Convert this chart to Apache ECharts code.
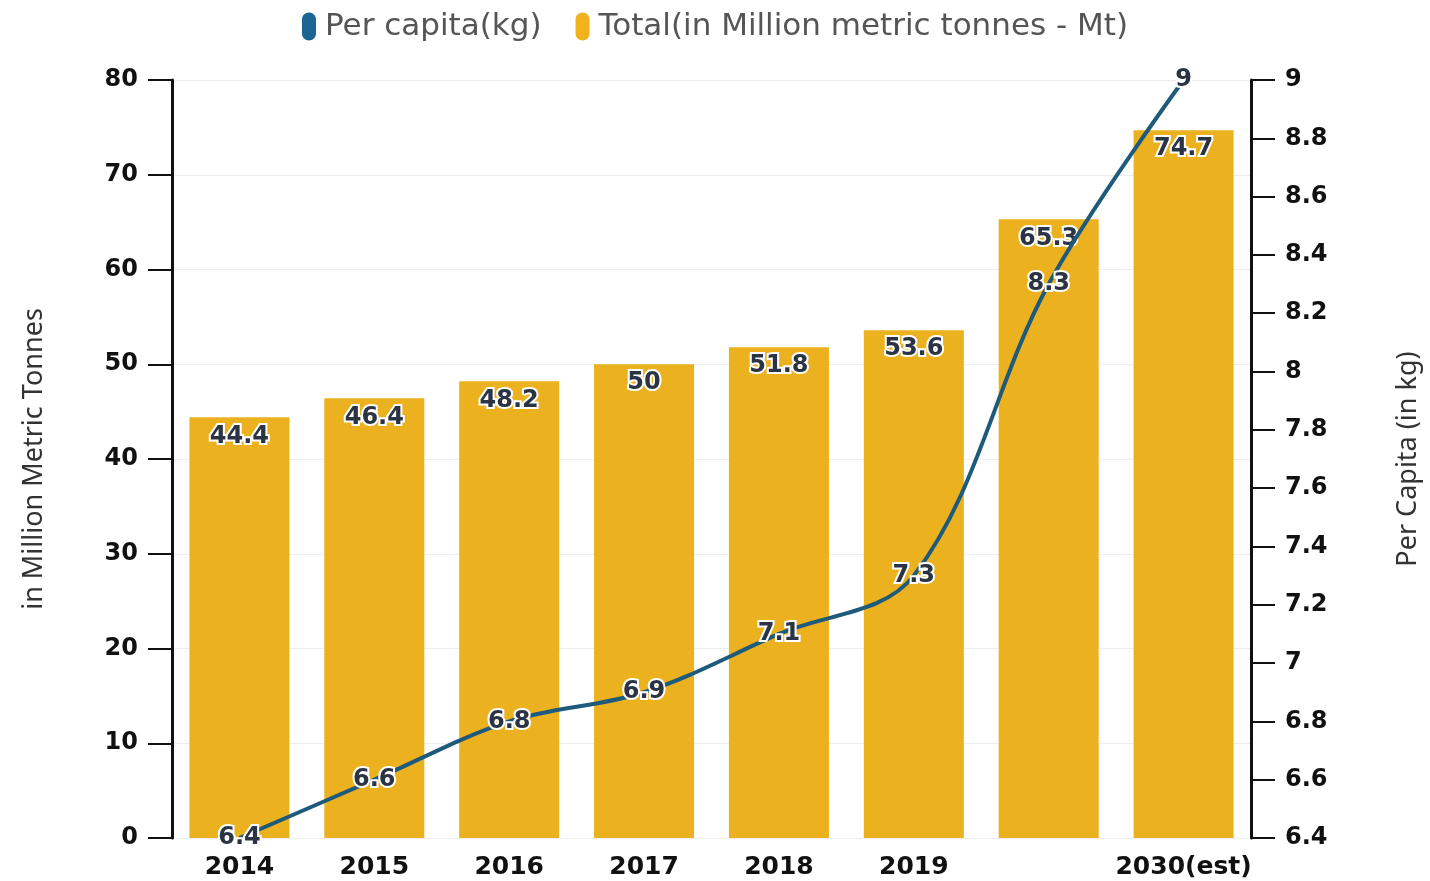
<!DOCTYPE html>
<html>
<head>
<meta charset="utf-8">
<script src="https://cdn.jsdelivr.net/npm/echarts@6/dist/echarts.min.js"></script>
<style>html,body{margin:0;padding:0;background:#fff}#c{width:1430px;height:881px}</style>
</head>
<body>
<div id="c"></div>
<script>
const categories = ['2014', '2015', '2016', '2017', '2018', '2019', '', '2030(est)'];
const totalMt = [44.4, 46.4, 48.2, 50, 51.8, 53.6, 65.3, 74.7];
const perCapita = [6.4, 6.6, 6.8, 6.9, 7.1, 7.3, 8.3, 9];
const seriesNames = ['Per capita(kg)', 'Total(in Million metric tonnes - Mt)'];
const leftAxisName = 'in Million Metric Tonnes';
const rightAxisName = 'Per Capita (in kg)';

const pill = 'path://M50,0 C78,0 100,22 100,50 L100,150 C100,178 78,200 50,200 C22,200 0,178 0,150 L0,50 C0,22 22,0 50,0 Z';
const boldFont = 'DejaVu Sans';
const chart = echarts.init(document.getElementById('c'));
chart.setOption({
  animation: false,
  legend: {
    top: 6, left: 'center', itemWidth: 22, itemHeight: 28, itemGap: 34,
    textStyle: { fontSize: 31, color: '#555', fontFamily: 'DejaVu Sans' },
    data: [
      { name: seriesNames[0], icon: pill, itemStyle: { color: '#1b6592' } },
      { name: seriesNames[1], icon: pill, itemStyle: { color: '#f2b21c' } }
    ]
  },
  grid: { left: 172, right: 177, top: 80, bottom: 43 },
  xAxis: {
    type: 'category', data: categories,
    axisLine: { show: false }, axisTick: { show: false },
    axisLabel: { fontSize: 25, fontWeight: 'bold', color: '#111', fontFamily: boldFont, margin: 17, interval: 0 }
  },
  yAxis: [
    {
      type: 'value', min: 0, max: 80, interval: 10, position: 'left',
      name: leftAxisName, nameLocation: 'middle', nameGap: 124, nameRotate: 90,
      nameTextStyle: { fontSize: 27, color: '#333', fontFamily: 'Noto Sans' },
      axisLine: { show: true, lineStyle: { color: '#111', width: 3 } },
      axisTick: { show: true, length: 24, lineStyle: { color: '#111', width: 2 } },
      axisLabel: { fontSize: 24, fontWeight: 'bold', color: '#111', fontFamily: boldFont, margin: 34 },
      splitLine: { show: true, lineStyle: { color: '#eeeeee', width: 1 } }
    },
    {
      type: 'value', min: 6.4, max: 9, interval: 0.2, position: 'right',
      name: rightAxisName, nameLocation: 'middle', nameGap: 144, nameRotate: 90,
      nameTextStyle: { fontSize: 27, color: '#333', fontFamily: 'Noto Sans' },
      axisLine: { show: true, lineStyle: { color: '#111', width: 3 } },
      axisTick: { show: true, length: 24, lineStyle: { color: '#111', width: 2 } },
      axisLabel: { fontSize: 24, fontWeight: 'bold', color: '#111', fontFamily: boldFont, margin: 34 },
      splitLine: { show: false }
    }
  ],
  series: [
    {
      name: seriesNames[1], type: 'bar', yAxisIndex: 0, data: totalMt, barWidth: 100,
      itemStyle: { color: '#ebb11e' }, z: 1,
      label: {
        show: true, position: 'insideTop', distance: 7,
        fontSize: 24, fontWeight: 'bold', color: '#2b3445', fontFamily: boldFont,
        textBorderColor: '#fff', textBorderWidth: 4
      }
    },
    {
      name: seriesNames[0], type: 'line', yAxisIndex: 1, data: perCapita, smooth: 0.35,
      symbol: 'circle', symbolSize: 1, itemStyle: { color: '#1d5a7c' },
      lineStyle: { color: '#1d5a7c', width: 4 }, z: 3,
      label: {
        show: true, position: 'inside',
        fontSize: 24, fontWeight: 'bold', color: '#2b3445', fontFamily: boldFont,
        textBorderColor: '#fff', textBorderWidth: 4
      }
    }
  ]
});
</script>
</body>
</html>
